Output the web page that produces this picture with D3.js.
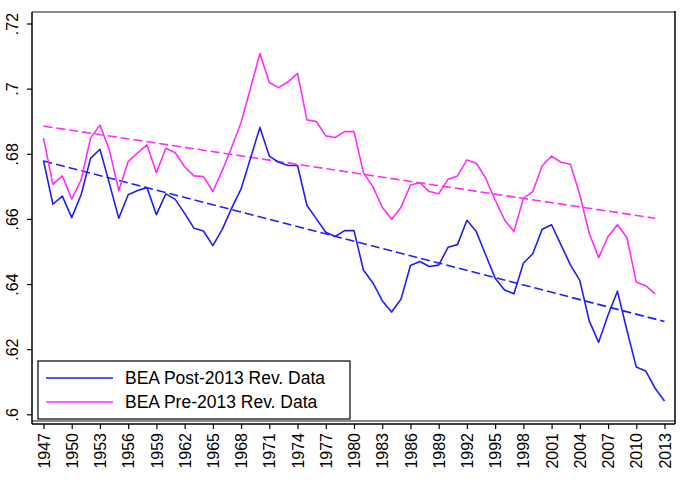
<!DOCTYPE html>
<html>
<head>
<meta charset="utf-8">
<script src="https://cdn.jsdelivr.net/npm/d3@7"></script>
<style>
  html, body { margin: 0; padding: 0; background: #fff; }
  svg { display: block; font-family: "Liberation Sans", Arial, sans-serif; }
</style>
</head>
<body>
<svg id="chart" width="684" height="485"></svg>
<script>
// ---- data ----
const years = d3.range(1947, 2014);
const postRev = [
  0.6779, 0.6645, 0.6670, 0.6604, 0.6674, 0.6786, 0.6814, 0.6709, 0.6602, 0.6674,
  0.6687, 0.6696, 0.6613, 0.6677, 0.6660, 0.6617, 0.6571, 0.6563, 0.6518, 0.6568,
  0.6633, 0.6692, 0.6786, 0.6881, 0.6793, 0.6774, 0.6764, 0.6764, 0.6641, 0.6600,
  0.6559, 0.6546, 0.6564, 0.6564, 0.6443, 0.6404, 0.6349, 0.6314, 0.6354, 0.6457,
  0.6469, 0.6454, 0.6458, 0.6513, 0.6521, 0.6596, 0.6561, 0.6489, 0.6418, 0.6382,
  0.6370, 0.6464, 0.6493, 0.6568, 0.6582, 0.6520, 0.6459, 0.6411, 0.6287, 0.6221,
  0.6305, 0.6378, 0.6259, 0.6145, 0.6133, 0.6080, 0.6041
];
const preRev = [
  0.6848, 0.6706, 0.6732, 0.6661, 0.6720, 0.6848, 0.6888, 0.6812, 0.6687, 0.6776,
  0.6803, 0.6827, 0.6742, 0.6817, 0.6803, 0.6760, 0.6732, 0.6730, 0.6684, 0.6748,
  0.6820, 0.6896, 0.7001, 0.7108, 0.7019, 0.7003, 0.7021, 0.7047, 0.6904, 0.6899,
  0.6855, 0.6850, 0.6868, 0.6868, 0.6742, 0.6699, 0.6636, 0.6599, 0.6636, 0.6704,
  0.6711, 0.6684, 0.6677, 0.6722, 0.6732, 0.6781, 0.6771, 0.6725, 0.6658, 0.6597,
  0.6561, 0.6663, 0.6684, 0.6763, 0.6793, 0.6774, 0.6768, 0.6674, 0.6556, 0.6481,
  0.6546, 0.6582, 0.6543, 0.6406, 0.6395, 0.6370
];
// linear fit lines (endpoints as drawn)
const trendPostYears = [1947, 2013];
const trendPostValues = [0.6778, 0.6285];
const trendPreYears = [1947, 2012];
const trendPreValues = [0.6885, 0.6602];

const yTicks = [0.6, 0.62, 0.64, 0.66, 0.68, 0.7, 0.72];
const yTickLabels = [".6", ".62", ".64", ".66", ".68", ".7", ".72"];
const xTicks = d3.range(1947, 2014, 3);
const legendLabels = ["BEA Post-2013 Rev. Data", "BEA Pre-2013 Rev. Data"];

// ---- drawing ----
const blue = "#1f1ff5";
const pink = "#ff2bff";
const svg = d3.select("#chart");

const plotL = 32, plotR = 675, plotT = 12, plotB = 421, axisY = 424;
const x = d3.scaleLinear().domain([1947, 2013]).range([43.5, 664.5]);
const y = d3.scaleLinear().domain([0.6, 0.72]).range([414.3, 23.5]);

// plot region frame
svg.append("line").attr("x1", plotL).attr("x2", plotR).attr("y1", plotT).attr("y2", plotT)
  .attr("stroke", "#8a8a8a").attr("stroke-width", 2);
svg.append("line").attr("x1", plotL).attr("x2", plotR).attr("y1", plotB).attr("y2", plotB)
  .attr("stroke", "#8a8a8a").attr("stroke-width", 2);
svg.append("line").attr("x1", plotR).attr("x2", plotR).attr("y1", plotT - 1).attr("y2", axisY)
  .attr("stroke", "#000").attr("stroke-width", 1.5);

// y axis
const yAxis = d3.axisLeft(y).tickValues(yTicks)
  .tickFormat((d, i) => yTickLabels[i]).tickSize(5).tickSizeOuter(0);
const gy = svg.append("g").attr("transform", `translate(${plotL},0)`).call(yAxis);
gy.select(".domain").attr("d", `M0,${plotT}V${axisY}`).attr("stroke", "#000").attr("stroke-width", 1.5);
gy.selectAll(".tick line").attr("stroke", "#000").attr("stroke-width", 1.2);
gy.selectAll(".tick text")
  .attr("transform", "rotate(-90)")
  .attr("x", 0).attr("y", -14).attr("dy", 0)
  .attr("text-anchor", "middle")
  .attr("font-size", 16).attr("font-family", "'Liberation Sans', Arial, sans-serif")
  .attr("fill", "#000");

// x axis
const xAxis = d3.axisBottom(x).tickValues(xTicks).tickFormat(d3.format("d"))
  .tickSize(5).tickSizeOuter(0);
const gx = svg.append("g").attr("transform", `translate(0,${axisY})`).call(xAxis);
gx.select(".domain").attr("d", `M${plotL},0H${plotR}`).attr("stroke", "#000").attr("stroke-width", 1.5);
gx.selectAll(".tick line").attr("stroke", "#000").attr("stroke-width", 1.2);
gx.selectAll(".tick text")
  .attr("transform", "rotate(-90)")
  .attr("x", -9).attr("y", 0).attr("dy", "0.35em")
  .attr("text-anchor", "end")
  .attr("font-size", 16).attr("font-family", "'Liberation Sans', Arial, sans-serif")
  .attr("fill", "#000");

// series
const line = d3.line().x(d => x(d[0])).y(d => y(d[1]));
const postData = years.map((yr, i) => [yr, postRev[i]]);
const preData = years.slice(0, preRev.length).map((yr, i) => [yr, preRev[i]]);

svg.append("path").datum(d3.zip(trendPreYears, trendPreValues)).attr("d", line)
  .attr("fill", "none").attr("stroke", pink).attr("stroke-width", 1.6).attr("stroke-dasharray", "9,4");
svg.append("path").datum(d3.zip(trendPostYears, trendPostValues)).attr("d", line)
  .attr("fill", "none").attr("stroke", blue).attr("stroke-width", 1.6).attr("stroke-dasharray", "9,4");
svg.append("path").datum(preData).attr("d", line)
  .attr("fill", "none").attr("stroke", pink).attr("stroke-width", 1.6).attr("stroke-linejoin", "round");
svg.append("path").datum(postData).attr("d", line)
  .attr("fill", "none").attr("stroke", blue).attr("stroke-width", 1.6).attr("stroke-linejoin", "round");

// legend
const lg = svg.append("g");
lg.append("rect").attr("x", 38).attr("y", 361).attr("width", 312).attr("height", 58)
  .attr("fill", "#fff").attr("stroke", "#000").attr("stroke-width", 1.2);
const legColors = [blue, pink];
legendLabels.forEach((lab, i) => {
  const cy = 378 + i * 24;
  lg.append("line").attr("x1", 46).attr("x2", 113).attr("y1", cy).attr("y2", cy)
    .attr("stroke", legColors[i]).attr("stroke-width", 1.6);
  lg.append("text").attr("x", 125).attr("y", cy + 6.3).text(lab)
    .attr("font-size", 17.5).attr("fill", "#000");
});
</script>
</body>
</html>
